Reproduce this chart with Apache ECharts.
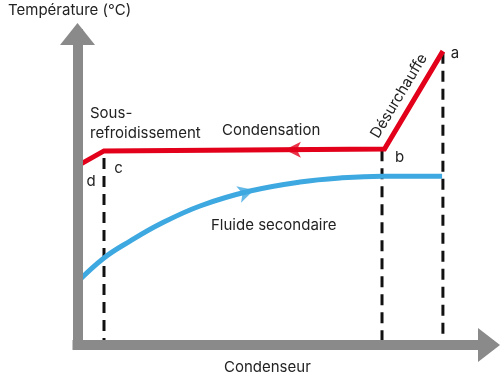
<!DOCTYPE html>
<html>
<head>
<meta charset="utf-8">
<script src="https://cdn.jsdelivr.net/npm/echarts@6/dist/echarts.min.js"></script>
<style>
  html, body { margin: 0; padding: 0; background: #fff; }
  #chart { width: 500px; height: 374px; }
</style>
</head>
<body>
<div id="chart"></div>
<script>
// Refrigerant (red) path: d -> c -> b -> a  [position, temperature]
const refrigerantPath = [[0, 57.6], [6.44, 62.4], [74.6, 63.0], [88.8, 94.5]];
// Secondary fluid (blue) curve
const secondaryPath = [[0, 20.3], [6.44, 28.0], [12.76, 33.4], [20.05, 38.9], [29.77, 44.7],
  [41.92, 49.5], [54.07, 52.4], [63.79, 53.7], [74.0, 54.3], [88.6, 54.3]];
// Vertical dashed markers at c, b, a
const markerX = [6.44, 74.0, 88.8];
const markerTop = [60.1, 62.6, 94.0];
// Flow direction arrowheads
const refrigerantArrow = [[50.4, 62.8]];
const secondaryArrow = [[42.9, 49.8]];
// Texts
const yTitle = 'Température (°C)';
const xTitle = 'Condenseur';
const pointLabels = ['a', 'b', 'c', 'd'];

const RED = '#e2001a';
const BLUE = '#3ea8e0';
const GRAY = '#8a8a8a';
const TXT = '#222222';
const FONT = 'Inter';

const dashedSeries = markerX.map((x, i) => ({
  type: 'line',
  data: [[x, markerTop[i]], [x, 0]],
  symbol: 'none',
  z: 1,
  lineStyle: { color: '#111', width: 3, type: [11, 7] },
  silent: true
}));

function txt(text, x, y, extra) {
  return {
    type: 'text', x: x, y: y, silent: true,
    style: Object.assign({ text: text, fill: TXT, font: '15px ' + FONT, textAlign: 'left', textVerticalAlign: 'middle' }, extra || {})
  };
}

const chart = echarts.init(document.getElementById('chart'), null, { renderer: 'canvas' });
chart.setOption({
  animation: false,
  backgroundColor: '#fff',
  grid: { left: 77.5, right: 11, top: 34, bottom: 29 },
  xAxis: {
    type: 'value', min: 0, max: 100, z: 5,
    axisLine: { show: true, onZero: false, symbol: ['none', 'triangle'], symbolSize: [34, 22],
      lineStyle: { color: GRAY, width: 10, cap: 'square' } },
    axisTick: { show: false }, axisLabel: { show: false }, splitLine: { show: false }
  },
  yAxis: {
    type: 'value', min: 0, max: 100, z: 5,
    axisLine: { show: true, onZero: false, symbol: ['none', 'triangle'], symbolSize: [35, 22],
      lineStyle: { color: GRAY, width: 10, cap: 'square' } },
    axisTick: { show: false }, axisLabel: { show: false }, splitLine: { show: false }
  },
  series: dashedSeries.concat([
    {
      type: 'line', data: secondaryPath, symbol: 'none', smooth: 0.4, z: 2,
      lineStyle: { color: BLUE, width: 5 }
    },
    {
      type: 'line', data: refrigerantPath, symbol: 'none', z: 3,
      lineStyle: { color: RED, width: 5, join: 'miter' }
    },
    {
      type: 'scatter', data: refrigerantArrow, symbol: 'arrow', symbolSize: [12, 16], symbolRotate: 90, z: 4,
      itemStyle: { color: RED }
    },
    {
      type: 'scatter', data: secondaryArrow, symbol: 'arrow', symbolSize: [13, 16], symbolRotate: -74, z: 4,
      itemStyle: { color: BLUE }
    }
  ]),
  graphic: [
    txt(yTitle, 8, 10),
    txt(xTitle, 224, 367),
    txt('Sous-', 90, 113),
    txt('refroidissement', 90, 133),
    txt('Condensation', 222, 130),
    txt('Fluide secondaire', 211, 225),
    { type: 'text', x: 399, y: 96, rotation: 59 * Math.PI / 180, silent: true,
      style: { text: 'Désurchauffe', fill: TXT, font: '15px ' + FONT, textAlign: 'center', textVerticalAlign: 'middle' } },
    txt(pointLabels[0], 455, 53, { textAlign: 'center' }),
    txt(pointLabels[1], 399.5, 157, { textAlign: 'center' }),
    txt(pointLabels[2], 118.5, 168, { textAlign: 'center' }),
    txt(pointLabels[3], 91, 181.5, { textAlign: 'center' })
  ]
});
</script>
</body>
</html>
